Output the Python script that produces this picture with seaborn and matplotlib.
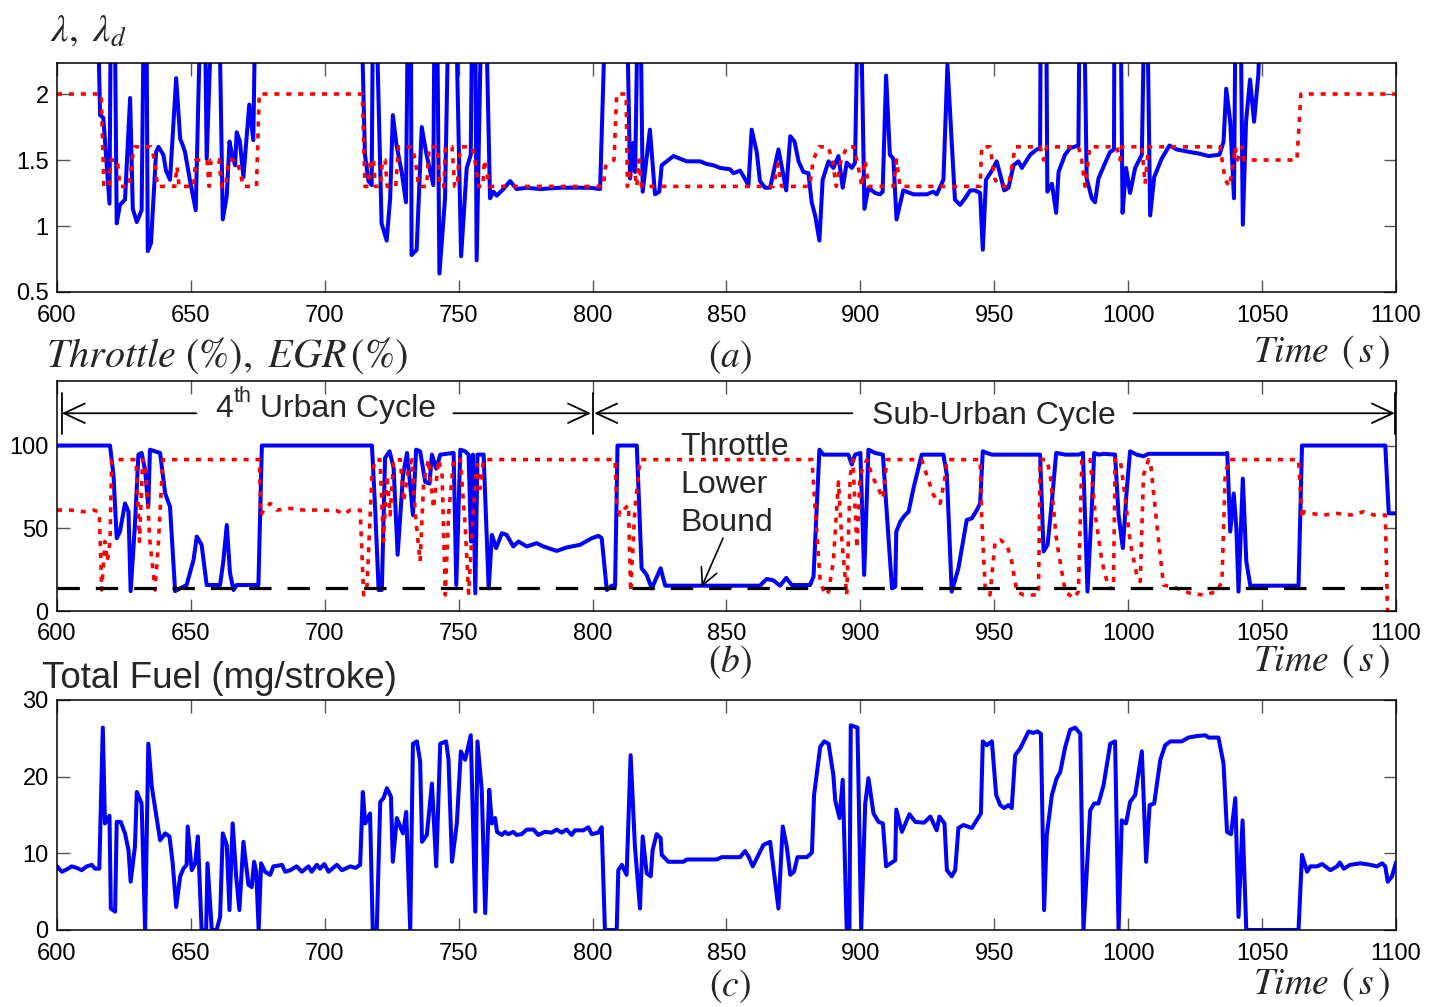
import matplotlib
matplotlib.use("Agg")
import matplotlib.pyplot as plt
import pandas as pd
import seaborn as sns

# ---------------------------------------------------------------- data
# air-fuel ratio lambda (3.0 = off the plotted range, fuel cut)
lam_t = [600, 614.8, 616.1, 617.3, 619.6, 620.2, 621.4, 622.3, 623.5, 625.4, 627.3, 628.3, 629.8, 631.6,
         632.6, 633.3, 633.9, 635.1, 637.0, 637.9, 639.7, 640.7, 642.2, 644.5, 646.0, 647.0, 647.8, 649.7,
         651.8, 654.0, 655.0, 655.9, 658.4, 660.3, 661.9, 663.4, 664.4, 665.2, 666.5, 667.1, 668.3, 669.6,
         671.8, 673.3, 674.3, 713.2, 715.0, 716.3, 717.5, 718.1, 718.8, 721.2, 723.1, 724.4, 725.4, 726.8,
         728.7, 730.3, 731.2, 732.1, 732.4, 734.3, 736.2, 738.0, 740.5, 741.1, 741.8, 742.8, 744.9, 746.5,
         748.6, 750.9, 753.0, 754.5, 755.2, 756.1, 756.7, 758.8, 759.8, 761.7, 763.0, 764.2, 766.7, 769.2,
         771.6, 775.4, 780.4, 787.8, 792.8, 799.0, 802.8, 805.3, 812.5, 814.0, 815.2, 815.9, 817.1, 817.7,
         818.7, 821.4, 823.3, 824.9, 825.8, 830.2, 832.7, 835.1, 840.1, 842.6, 845.1, 847.6, 851.3, 852.6,
         855.1, 858.2, 859.4, 861.3, 862.5, 864.4, 866.3, 869.4, 872.3, 873.8, 875.4, 876.9, 878.7, 880.6,
         881.8, 883.1, 884.7, 885.9, 888.1, 889.9, 891.8, 893.4, 894.9, 896.8, 898.0, 899.3, 899.9, 901.5,
         903.0, 905.5, 907.3, 908.3, 909.6, 911.0, 912.3, 913.5, 916.0, 919.8, 924.8, 927.2, 928.5, 931.0,
         932.5, 935.3, 937.2, 939.1, 941.0, 942.8, 944.7, 945.7, 946.9, 949.1, 950.9, 952.2, 953.7, 955.3,
         957.2, 959.0, 960.3, 963.4, 965.9, 967.1, 967.4, 969.3, 969.8, 971.5, 973.1, 974.0, 976.4, 978.3,
         981.4, 982.0, 983.3, 984.5, 986.4, 987.6, 988.9, 991.0, 993.2, 994.7, 994.9, 997.0, 997.9, 999.2,
         1000.7, 1002.6, 1005.1, 1006.3, 1006.9, 1008.2, 1009.7, 1012.5, 1015.4, 1018.1, 1023.1, 1026.2,
         1030.0, 1034.1, 1035.6, 1036.6, 1038.1, 1039.5, 1040.2, 1041.8, 1042.8, 1044.0, 1045.5, 1047.0,
         1048.6, 1049.9, 1100]
lam = [3.0, 3.0, 1.84, 1.82, 1.17, 3.0, 3.0, 1.02, 1.16, 1.20, 1.97, 1.13, 1.03, 1.12,
       3.0, 3.0, 0.81, 0.87, 1.56, 1.60, 1.54, 1.42, 1.35, 2.12, 1.66, 1.61, 1.56, 1.34,
       1.12, 3.0, 3.0, 1.51, 3.0, 3.0, 1.05, 1.23, 1.64, 1.56, 1.46, 1.71, 1.64, 1.37,
       1.92, 1.65, 3.0, 3.0, 1.54, 1.34, 1.31, 3.0, 3.0, 1.02, 0.89, 1.21, 1.84, 1.61,
       1.41, 1.18, 3.0, 3.0, 0.78, 0.82, 1.75, 1.54, 1.31, 3.0, 3.0, 0.64, 1.21, 3.0,
       3.0, 0.77, 1.44, 1.54, 3.0, 3.0, 0.74, 3.0, 3.0, 1.21, 1.26, 1.23, 1.28, 1.34,
       1.28, 1.29, 1.28, 1.29, 1.29, 1.29, 1.28, 3.0, 3.0, 1.36, 1.63, 1.41, 3.0, 3.0,
       1.26, 1.73, 1.24, 1.26, 1.46, 1.53, 1.51, 1.49, 1.49, 1.47, 1.46, 1.44, 1.43, 1.40,
       1.42, 1.31, 1.73, 1.56, 1.34, 1.29, 1.29, 1.58, 1.27, 1.68, 1.64, 1.49, 1.41, 1.40,
       1.18, 1.08, 0.89, 1.35, 1.49, 1.44, 1.53, 1.29, 1.48, 1.44, 1.48, 3.0, 3.0, 1.13,
       1.29, 1.25, 1.24, 1.26, 2.14, 1.54, 1.51, 1.05, 1.27, 1.24, 1.24, 1.26, 1.24, 1.35,
       2.22, 1.20, 1.16, 1.21, 1.27, 1.27, 1.25, 0.82, 1.35, 1.42, 1.49, 1.39, 1.27, 1.29,
       1.46, 1.49, 1.44, 1.54, 1.58, 1.59, 3.0, 3.0, 1.26, 1.32, 1.10, 1.41, 1.54, 1.59,
       1.61, 3.0, 3.0, 1.36, 1.21, 1.18, 1.36, 1.46, 1.56, 1.58, 3.0, 3.0, 1.10, 1.44,
       1.25, 1.44, 1.54, 3.0, 3.0, 1.08, 1.37, 1.51, 1.61, 1.58, 1.56, 1.55,
       1.53, 1.54, 1.64, 2.04, 1.79, 1.21, 3.0, 3.0, 1.01, 1.79, 2.11, 1.79,
       2.15, 3.0, 3.0]

# desired lambda
lamd_t = [600, 616.5, 617.5, 619.5, 620.0, 622.5, 623.5, 627.0, 628.0, 629.0, 635.0, 636.5, 637.5, 644.0,
          644.8, 645.6, 651.0, 651.8, 656.0, 656.8, 657.5, 660.5, 661.5, 663.0, 664.0, 667.0, 668.5, 669.5,
          674.5, 675.5, 714.0, 715.0, 716.3, 717.0, 718.2, 718.8, 720.8, 721.5, 722.5, 723.3, 726.5, 727.5,
          732.5, 733.8, 735.0, 738.0, 739.0, 742.0, 743.0, 744.5, 745.0, 747.5, 748.5, 749.5, 750.0, 751.0,
          755.0, 756.0, 757.5, 759.0, 759.6, 760.5, 761.5, 804.0, 804.8, 808.0, 809.0, 812.5, 813.0, 814.0,
          815.8, 816.5, 817.3, 818.3, 867.5, 869.2, 870.6, 881.0, 882.4, 884.5, 888.0, 889.5, 891.0, 892.8,
          895.0, 897.5, 899.2, 900.5, 901.7, 903.0, 912.3, 913.5, 914.8, 944.7, 945.3, 948.4, 950.3, 952.2,
          955.3, 957.8, 967.1, 968.4, 969.6, 981.4, 982.6, 983.9, 985.7, 995.7, 997.0, 997.6, 1005.1, 1006.3,
          1007.6, 1034.3, 1036.2, 1037.8, 1039.1, 1039.9, 1040.8, 1042.5, 1043.2, 1063.0, 1064.5, 1100]
lamd = [2.0, 2.0, 1.3, 1.3, 1.5, 1.5, 1.3, 1.3, 1.5, 1.6, 1.6, 1.5, 1.3, 1.3,
        1.45, 1.3, 1.3, 1.5, 1.5, 1.3, 1.5, 1.5, 1.3, 1.3, 1.5, 1.5, 1.4, 1.3,
        1.3, 2.0, 2.0, 1.3, 1.3, 1.5, 1.5, 1.3, 1.3, 1.5, 1.5, 1.3, 1.3, 1.6,
        1.6, 1.5, 1.3, 1.3, 1.6, 1.6, 1.3, 1.3, 1.6, 1.6, 1.3, 1.3, 1.5, 1.6,
        1.6, 1.5, 1.3, 1.3, 1.5, 1.4, 1.3, 1.3, 1.45, 1.5, 2.0, 2.0, 1.3, 1.4,
        1.4, 1.3, 1.5, 1.3, 1.3, 1.47, 1.3, 1.3, 1.5, 1.6, 1.6, 1.5, 1.3, 1.5,
        1.6, 1.6, 1.45, 1.3, 1.5, 1.3, 1.3, 1.5, 1.3, 1.3, 1.6, 1.6, 1.35, 1.3,
        1.3, 1.6, 1.6, 1.5, 1.6, 1.6, 1.5, 1.3, 1.6, 1.6, 1.5, 1.6, 1.6, 1.32,
        1.6, 1.6, 1.35, 1.3, 1.46, 1.6, 1.5, 1.6, 1.5, 1.5, 2.0, 2.0]

# throttle opening (%)
thr_t = [600, 619.8, 621.1, 622.3, 623.5, 625.4, 626.7, 627.5, 629.1, 630.4, 631.6, 632.9, 634.1, 634.7,
         636.6, 638.5, 640.4, 642.2, 644.1, 646.0, 648.4, 651.0, 652.2, 654.0, 655.9, 660.9, 662.1, 663.4,
         664.6, 665.9, 667.1, 675.2, 676.5, 717.6, 718.8, 720.1, 721.3, 722.5, 724.2, 725.7, 727.2, 729.2,
         730.7, 731.9, 732.9, 734.1, 735.6, 737.5, 739.1, 740.0, 741.6, 743.1, 748.1, 749.1, 750.6, 752.4,
         753.7, 754.6, 755.3, 756.2, 757.0, 759.3, 761.2, 762.4, 764.0, 766.1, 767.9, 770.4, 772.3, 775.4,
         779.1, 781.6, 786.6, 790.3, 795.3, 799.7, 802.2, 803.4, 805.3, 807.1, 808.4, 809.3, 816.5, 818.3,
         820.2, 822.1, 825.4, 827.1, 862.5, 865.0, 867.5, 870.0, 872.3, 874.4, 881.2, 882.5, 884.7, 886.2,
         895.5, 896.8, 898.0, 900.0, 901.4, 903.0, 905.5, 908.4, 909.9, 911.8, 913.0, 913.4, 914.9, 916.7,
         918.0, 919.8, 922.9, 931.0, 932.3, 934.1, 936.6, 939.7, 941.6, 943.5, 944.7, 945.7, 947.2, 949.1,
         967.1, 968.4, 969.9, 971.5, 973.1, 976.5, 981.4, 983.1, 984.8, 986.4, 987.3, 989.0, 990.8, 995.1,
         996.4, 998.0, 999.5, 1000.7, 1003.2, 1005.7, 1007.6, 1036.2, 1037.0, 1038.1, 1039.4, 1040.4, 1041.2,
         1042.8, 1044.1, 1045.6, 1063.6, 1064.9, 1096.0, 1097.3, 1100]
thr = [100, 100, 82, 44, 48, 65, 60, 12, 52, 94.5, 95.5, 85, 63, 97.5,
       96.5, 95.5, 71, 63, 12, 13.7, 15.7, 31, 45, 40, 15.7, 15.7, 30, 52,
       23, 12.7, 15.7, 15.7, 100, 100, 62, 12.7, 12.7, 92.5, 96.5, 86.4, 34, 82,
       95.5, 76, 58, 97.5, 96.5, 78, 77, 94.5, 86, 94.5, 95.5, 15.7, 97.5, 96.5,
       94.5, 42, 94.5, 10.7, 94.5, 94.5, 13.7, 46, 38, 47, 46, 39, 42, 39,
       41, 39, 36.3, 38.4, 40, 44, 45.4, 44, 12.7, 15.3, 15.3, 100, 100, 25.8,
       21.8, 13.7, 25.8, 15.3, 15.3, 19.4, 18.5, 15.3, 20, 15.7, 15.7, 20.8, 97.5, 94.5,
       94.5, 88.5, 94.5, 95.5, 21.8, 97.5, 95.5, 94.5, 58, 13.7, 14.7, 48, 54, 58,
       60, 74, 94.5, 94.5, 82, 11.7, 25.8, 55, 56, 61, 65, 96.5, 95.5, 94.5,
       94.5, 36, 40, 66, 95.5, 94.5, 94.5, 95.5, 11.7, 62, 95.5, 94.5, 95, 94.5,
       58, 38, 74, 96.5, 94.5, 93.5, 95, 95, 95.5, 48, 71, 50, 11.7,
       80, 30, 15.3, 15.3, 100, 100, 59, 59]

# EGR valve opening (%)
egr_t = [600, 604.9, 607.4, 609.9, 613.6, 615.5, 615.8, 616.7, 617.9, 618.8, 619.8, 620.4, 629.5, 630.8,
         632.0, 633.0, 634.7, 636.6, 637.9, 639.5, 675.6, 676.1, 677.7, 679.6, 682.1, 687.1, 692.0, 697.0,
         704.5, 707.0, 709.5, 713.2, 714.5, 715.7, 717.6, 718.8, 720.6, 721.9, 723.2, 724.4, 725.7, 728.2,
         729.4, 731.3, 732.6, 733.8, 735.6, 736.9, 738.7, 740.6, 742.5, 743.8, 745.0, 746.2, 748.1, 750.6,
         752.4, 753.7, 755.5, 756.8, 758.0, 759.3, 808.4, 809.0, 810.2, 812.1, 813.4, 814.2, 815.8, 817.1,
         817.7, 881.9, 883.1, 885.0, 886.8, 888.1, 889.9, 891.8, 893.1, 894.9, 896.2, 897.2, 898.7, 899.9,
         902.4, 904.3, 906.1, 908.4, 909.9, 922.9, 924.8, 927.3, 929.8, 931.7, 932.3, 944.7, 945.3, 946.6,
         948.4, 950.3, 952.2, 954.7, 956.5, 958.4, 960.9, 966.5, 967.1, 969.6, 970.9, 973.3, 976.5, 979.6,
         981.4, 982.7, 985.8, 987.7, 990.2, 992.7, 994.5, 995.1, 997.0, 998.3, 1000.7, 1003.2, 1004.5, 1005.7,
         1007.6, 1008.5, 1010.7, 1013.2, 1018.2, 1023.2, 1028.1, 1033.1, 1035.0, 1036.2, 1037.5, 1063.6,
         1064.9, 1065.5, 1068.0, 1073.0, 1078.0, 1083.0, 1088.0, 1091.7, 1096.0, 1096.8, 1097.2]
egr = [61, 61, 60.6, 60, 61, 60, 59, 12.7, 42, 30, 42, 91.5, 91.5, 42,
       91.5, 88.5, 42, 12.7, 42, 91.5, 91.5, 58, 62, 65, 61, 62, 61, 61,
       60.6, 58.5, 61, 61, 9.7, 12.7, 82, 91.5, 91.5, 42, 82, 58, 91.5, 91.5,
       66, 86.4, 91.5, 58, 30, 78, 91.5, 62, 91.5, 82, 9.7, 58, 91.5, 91.5,
       52, 10.7, 62, 88.5, 74, 91.5, 91.5, 66, 58, 62, 64, 11.7, 62, 82,
       91.5, 91.5, 62, 17.8, 9.7, 11.7, 30, 78, 42, 9.7, 82, 91.5, 38, 82,
       91.5, 82, 76, 68, 91.5, 91.5, 82, 70, 65, 82, 91.5, 91.5, 56, 13.7,
       9.7, 42, 43, 40, 30, 11.7, 9.7, 9.7, 91.5, 91.5, 82, 42, 11.7, 7.7,
       11.7, 91.5, 91.5, 58, 30, 13.7, 13.7, 91.5, 91.5, 76, 42, 21.8, 17.8, 82,
       91.5, 87, 52, 15.7, 13.7, 10.7, 9.7, 11.7, 17.8, 82, 91.5, 91.5,
       56, 60, 59, 58, 59, 58, 60, 58, 58, 1.6, -5]

# throttle lower bound (%)
bound_t = [600, 1100]
bound = [13.7, 13.7]

# total injected fuel (mg/stroke)
fuel_t = [600, 601.8, 603.6, 605.5, 607.4, 609.2, 611.1, 613.0, 614.2, 615.8, 617.1, 617.9, 619.6, 620.1,
          621.7, 622.3, 623.8, 625.4, 626.7, 627.5, 629.1, 629.8, 631.6, 632.9, 634.1, 635.4, 638.5, 640.4,
          642.0, 643.2, 644.5, 646.0, 647.2, 648.4, 648.8, 650.3, 651.6, 652.6, 654.0, 655.7, 656.2, 657.8,
          659.6, 660.9, 661.9, 663.4, 664.4, 665.6, 666.9, 668.1, 669.6, 671.5, 672.7, 673.6, 674.4, 675.3,
          676.2, 677.7, 679.6, 680.8, 682.7, 684.0, 685.2, 687.1, 689.5, 691.4, 693.9, 695.1, 697.0, 698.2,
          699.8, 701.4, 704.5, 706.4, 709.5, 711.5, 713.2, 714.2, 715.1, 716.9, 717.9, 719.4, 720.7, 721.9,
          723.2, 724.7, 725.4, 726.9, 729.2, 730.4, 731.9, 732.9, 734.4, 735.6, 736.3, 738.1, 740.0, 741.6,
          743.1, 745.3, 746.2, 747.5, 749.3, 750.8, 752.4, 754.5, 756.2, 757.0, 758.6, 759.9, 761.4, 762.4,
          763.6, 764.3, 766.1, 767.3, 768.5, 770.4, 771.6, 773.5, 775.4, 777.9, 779.7, 782.2, 784.7, 786.6,
          788.4, 790.3, 792.2, 793.4, 796.5, 798.4, 799.7, 802.1, 803.4, 804.6, 809.0, 809.6, 810.9, 812.7,
          814.2, 815.8, 817.7, 818.7, 820.2, 821.7, 822.4, 823.9, 825.4, 825.8, 828.3, 833.9, 835.2, 846.4,
          848.2, 855.1, 856.9, 858.2, 859.8, 863.8, 866.3, 869.4, 871.0, 872.5, 873.8, 875.2, 876.5, 880.0,
          881.9, 882.7, 885.0, 886.5, 888.1, 889.9, 890.6, 892.2, 893.4, 894.9, 895.9, 896.4, 898.9, 900.3,
          901.8, 903.0, 904.9, 906.8, 908.4, 909.6, 913.0, 913.4, 915.5, 918.3, 920.5, 923.8, 926.1, 928.5,
          929.5, 931.4, 932.3, 934.1, 935.4, 936.6, 938.5, 941.6, 945.0, 945.7, 947.2, 949.1, 950.7, 952.2,
          953.7, 955.3, 956.5, 957.8, 959.7, 962.8, 964.5, 966.1, 967.4, 968.6, 969.6, 971.5, 973.3, 974.6,
          976.5, 978.3, 980.2, 982.1, 983.3, 985.8, 987.3, 988.9, 990.8, 993.3, 995.1, 996.4, 997.6, 999.2,
          1000.7, 1002.6, 1005.1, 1006.7, 1008.0, 1009.7, 1012.0, 1013.8, 1015.7, 1020.0, 1022.5, 1025.7,
          1028.8, 1030.0, 1033.7, 1035.6, 1036.9, 1038.4, 1040.0, 1041.2, 1042.7, 1044.1, 1063.6, 1064.9,
          1066.8, 1068.0, 1070.5, 1072.4, 1075.5, 1078.0, 1079.0, 1080.5, 1082.9, 1086.7, 1090.4, 1092.9,
          1094.8, 1096.0, 1096.9, 1098.5, 1100]
fuel = [8.3, 7.6, 7.9, 8.3, 8.1, 7.8, 8.3, 8.5, 8.0, 8.0, 26.4, 13.9, 14.9, 2.8,
        2.4, 14.1, 14.1, 12.6, 10.4, 6.3, 10.9, 18.0, 16.5, 0, 24.3, 18.7, 11.7, 12.6,
        12.2, 8.7, 3.0, 7.0, 8.0, 8.5, 13.5, 7.8, 8.7, 12.2, 0, 0, 8.7, 0,
        0, 1.7, 12.6, 11.1, 2.6, 13.9, 7.0, 2.6, 11.5, 5.9, 5.6, 8.9, 7.6, 0,
        8.7, 7.6, 7.2, 8.3, 8.4, 8.5, 7.6, 7.8, 8.3, 7.6, 8.3, 7.6, 8.5, 8.0,
        8.6, 7.6, 8.5, 7.8, 8.3, 8.1, 8.5, 18.0, 13.9, 15.2, 0, 0, 16.7, 17.2,
        18.5, 17.4, 8.9, 14.6, 12.6, 15.4, 0, 24.3, 24.6, 22.0, 11.5, 12.4, 19.1, 8.3,
        24.3, 24.6, 22.2, 8.9, 13.9, 23.3, 22.2, 25.4, 2.4, 24.6, 18.3, 2.2, 18.3, 13.9,
        14.6, 12.8, 12.4, 12.8, 12.5, 12.8, 12.4, 12.5, 13.1, 13.1, 12.4, 12.8, 12.7, 13.1,
        12.7, 13.1, 12.4, 13.0, 13.0, 13.4, 12.5, 12.7, 13.4, 0, 0, 7.8, 8.5, 7.2,
        22.8, 10.9, 2.8, 12.2, 7.4, 7.0, 10.4, 12.5, 12.0, 9.8, 8.9, 8.9, 9.2, 9.2,
        9.5, 9.5, 10.3, 9.6, 8.3, 11.1, 11.5, 2.8, 13.5, 10.9, 7.2, 7.6, 9.5, 9.5,
        10.1, 17.6, 23.9, 24.6, 24.3, 20.2, 16.9, 14.6, 19.6, 0, 0, 26.7, 26.4, 0,
        16.5, 19.8, 15.2, 14.1, 13.9, 8.3, 9.1, 15.7, 12.8, 15.1, 14.1, 14.0, 14.8, 13.0,
        14.8, 13.9, 7.8, 7.0, 7.8, 13.3, 13.7, 13.3, 15.2, 24.6, 24.1, 24.6, 17.6, 16.3,
        15.9, 16.3, 15.9, 22.8, 23.7, 25.9, 25.7, 25.9, 25.6, 2.6, 12.4, 17.6, 19.8, 20.6,
        23.9, 26.1, 26.4, 25.6, 0, 15.6, 16.5, 16.5, 18.9, 24.3, 24.6, 0, 14.3, 13.9,
        16.7, 17.6, 23.3, 8.9, 16.3, 16.5, 22.2, 24.1, 24.6, 24.6, 25.1, 25.3,
        25.4, 25.1, 25.1, 21.7, 12.8, 12.5, 17.2, 1.7, 14.3, 0, 0, 9.8,
        7.6, 8.3, 8.3, 8.6, 7.8, 8.3, 8.8, 8.0, 8.5, 8.7, 8.5, 8.3,
        8.7, 8.3, 6.3, 7.0, 8.8]

time_ticks = [600, 650, 700, 750, 800, 850, 900, 950, 1000, 1050, 1100]

# ---------------------------------------------------------------- style
sns.set_theme(style="white")
plt.rcParams.update({
    "font.family": ["Liberation Sans", "DejaVu Sans"],
    "mathtext.fontset": "stix",
    "axes.edgecolor": "black",
    "axes.linewidth": 1.1,
    "xtick.direction": "in",
    "ytick.direction": "in",
    "xtick.color": "#555555",
    "ytick.color": "#555555",
    "xtick.labelcolor": "black",
    "ytick.labelcolor": "black",
    "xtick.major.size": 9,
    "ytick.major.size": 9,
    "xtick.major.width": 1.0,
    "ytick.major.width": 1.0,
    "xtick.major.pad": 9,
    "ytick.major.pad": 6,
    "xtick.labelsize": 17,
    "ytick.labelsize": 17,
    "xtick.top": True,
    "ytick.right": True,
    "xtick.bottom": True,
    "ytick.left": True,
})

W, H = 1440, 1007
fig = plt.figure(figsize=(W / 100, H / 100), dpi=100)


def box(left, top, right, bottom):
    return [left / W, 1 - bottom / H, (right - left) / W, (bottom - top) / H]


def fpos(x, y):
    return x / W, 1 - y / H


ax_a = fig.add_axes(box(57, 63, 1396, 292))
ax_b = fig.add_axes(box(57, 381, 1396, 611))
ax_c = fig.add_axes(box(57, 700, 1396, 930))

BLUE = "#0000FF"
RED = "#FF0000"
solid_kw = dict(color=BLUE, lw=2.9, estimator=None, sort=False, legend=False)
dot_kw = dict(color=RED, lw=2.6, estimator=None, sort=False, legend=False,
              dashes=(1.4, 1.9), dash_capstyle="butt")

# (a) lambda and desired lambda
sns.lineplot(data=pd.DataFrame({"t": lam_t, "v": lam}), x="t", y="v", ax=ax_a, **solid_kw)
sns.lineplot(data=pd.DataFrame({"t": lamd_t, "v": lamd}), x="t", y="v", ax=ax_a, **dot_kw)
ax_a.set_ylim(0.5, 2.235)
ax_a.set_yticks([0.5, 1, 1.5, 2])
ax_a.set_yticklabels(["0.5", "1", "1.5", "2"])

# (b) throttle, EGR and throttle lower bound
sns.lineplot(data=pd.DataFrame({"t": thr_t, "v": thr}), x="t", y="v", ax=ax_b, **solid_kw)
sns.lineplot(data=pd.DataFrame({"t": egr_t, "v": egr}), x="t", y="v", ax=ax_b, **dot_kw)
sns.lineplot(data=pd.DataFrame({"t": bound_t, "v": bound}), x="t", y="v", ax=ax_b,
             color="black", lw=2.3, dashes=(7, 5), estimator=None, sort=False, legend=False)
ax_b.set_ylim(0, 139)
ax_b.set_yticks([0, 50, 100])

# (c) total fuel
sns.lineplot(data=pd.DataFrame({"t": fuel_t, "v": fuel}), x="t", y="v", ax=ax_c, **solid_kw)
ax_c.set_ylim(0, 30)
ax_c.set_yticks([0, 10, 20, 30])

for ax in (ax_a, ax_b, ax_c):
    ax.set_xlim(600, 1100)
    ax.set_xticks(time_ticks)
    ax.set_xlabel("")
    ax.set_ylabel("")
    for s in ax.spines.values():
        s.set_visible(True)
        s.set_color("black")

# cycle markers in (b)
arr = dict(arrowstyle="->,head_length=0.75,head_width=0.35", lw=1.3, color="black",
           mutation_scale=20, shrinkA=0, shrinkB=0)
yline = 119.5
for x0, x1 in [(652, 601.8), (748, 799.4), (897, 800.6), (1002, 1099.6)]:
    ax_b.annotate("", xy=(x1, yline), xytext=(x0, yline), arrowprops=arr)
for xb in (601.8, 800.0, 1099.6):
    ax_b.plot([xb, xb], [107, 132], color="black", lw=1.3)

ANN = 23
t4 = ax_b.text(659.0, 117.5, "4", fontsize=ANN, ha="left", va="baseline")
tth = ax_b.annotate("th", xy=(1.02, 0.55), xycoords=t4, fontsize=15.5, ha="left", va="bottom")
ax_b.annotate(" Urban Cycle", xy=(1.0, 0.0), xycoords=(tth, t4), fontsize=ANN,
              ha="left", va="bottom")
ax_b.text(950.0, 113.0, "Sub-Urban Cycle", fontsize=ANN, ha="center", va="baseline")
for txt, yv in [("Throttle", 94.0), ("Lower", 71.5), ("Bound", 48.5)]:
    ax_b.text(832.6, yv, txt, fontsize=ANN, ha="left", va="baseline")
ax_b.annotate("", xy=(840.7, 14.5), xytext=(848.7, 44),
              arrowprops=dict(arrowstyle="->,head_length=0.6,head_width=0.3", lw=1.2,
                              color="black", mutation_scale=20, shrinkA=0, shrinkB=0))

# axis titles and panel captions
fig.text(*fpos(50, 41), r"$\lambda,\ \lambda_d$", fontsize=28, ha="left", va="baseline")
fig.text(*fpos(46, 367), r"$Throttle\ (\%),\ EGR\,\left(\%\right)$", fontsize=29,
         ha="left", va="baseline")
fig.text(*fpos(42, 688), "Total Fuel (mg/stroke)", fontsize=26.5, ha="left", va="baseline")
for cap, ycap, ytime in [("a", 357, 362), ("b", 662, 671), ("c", 986, 994)]:
    fig.text(*fpos(730, ycap), r"$\left(%s\right)$" % cap, fontsize=27, ha="center", va="center")
    fig.text(*fpos(1390, ytime), r"$Time\ \,\left(\,s\,\right)$", fontsize=27, ha="right",
             va="baseline")

fig.savefig("out.png", dpi=100, facecolor="white")
